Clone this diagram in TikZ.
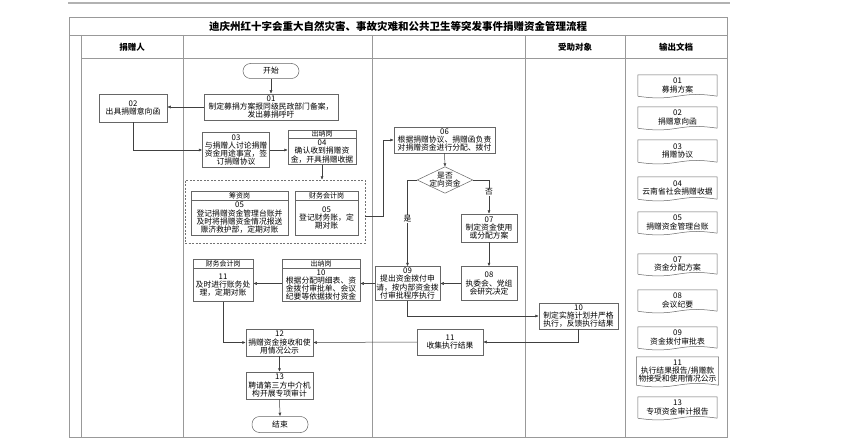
\documentclass[tikz,border=0pt]{standalone}
\usepackage{fontspec}
\setmainfont{Noto Sans CJK SC}
\usetikzlibrary{arrows.meta,calc}
\newcommand\fsm{\fontsize{7.8}{8.3}\selectfont}
\newcommand\fsh{\fontsize{7}{7.5}\selectfont}
\newcommand\mydoc[5]{%
  \node[doc, minimum width=#4, minimum height=#3] (#1) at (677.5, #2+#3/2) {#5};
  \draw[docline] (#1.south west) -- (#1.north west) -- (#1.north east) -- (#1.south east)
    .. controls ([xshift=-#4*0.5pt,yshift=6pt]#1.south east) and ([xshift=#4*0.5pt,yshift=-6pt]#1.south west) .. (#1.south west);}
\begin{document}
\begin{tikzpicture}[x=1pt,y=-1pt,
  lane/.style={draw=black!40, line width=0.7pt},
  box/.style={draw=black!60, line width=0.5pt, fill=white, align=center, inner sep=0.5pt, font=\fsm},
  term/.style={box, rounded corners=7.5pt},
  hdr/.style={draw=black!60, line width=0.5pt, fill=white, inner sep=0pt, font=\fsh},
  grp/.style={draw=black!55, line width=0.5pt, dash pattern=on 2pt off 1.5pt, inner sep=0pt},
  doc/.style={align=center, inner sep=0pt, font=\fsm},
  docline/.style={draw=black!60, line width=0.5pt},
  arr/.style={-{Latex[length=3.5pt,width=3pt]}, draw=black!75, line width=0.5pt},
  lbl/.style={fill=white, inner sep=0.5pt, font=\fsm},
  lanehead/.style={font=\fontsize{8.5}{9}\selectfont\bfseries},
]
\fill[white] (0,0) rectangle (860,444);
\useasboundingbox (0,0) rectangle (860,444);
% top rule
\draw[draw=black!30, line width=1.2pt] (68,3) -- (730,3);
% frame
\draw[lane] (69,17) rectangle (727,437);
\draw[lane] (69,35) -- (727,35);
\draw[lane] (81,58) -- (727,58);
\foreach \x in {81,183,372,525,625} \draw[lane] (\x,35) -- (\x,437);
\node[font=\fontsize{10.5}{11}\selectfont\bfseries] (title) at (398,26) {迪庆州红十字会重大自然灾害、事故灾难和公共卫生等突发事件捐赠资金管理流程};
\node[lanehead] (lh1) at (132,47) {捐赠人};
\node[lanehead] (lh4) at (575,47) {受助对象};
\node[lanehead] (lh5) at (676,47) {输出文档};

% nodes
\node[term, minimum width=56, minimum height=15] (start) at (271,71) {开始};
\node[box, minimum width=134, minimum height=26] (n01) at (271,107) {01\\制定募捐方案报同级民政部门备案，\\发出募捐呼吁};
\node[box, minimum width=68, minimum height=28] (n02) at (133,108) {02\\出具捐赠意向函};
\node[box, minimum width=67, minimum height=35] (n03) at (236,150) {03\\与捐赠人讨论捐赠\\资金用途事宜，签\\订捐赠协议};
\node[hdr, minimum width=68, minimum height=8] (h04) at (322,134) {出纳岗};
\node[box, minimum width=68, minimum height=26, anchor=north] (n04) at (h04.south) {04\\确认收到捐赠资\\金，开具捐赠收据};

\node[grp, minimum width=180, minimum height=63] (g05) at (275,211.5) {};
\node[hdr, minimum width=97, minimum height=9] (h05a) at (239.5,195.5) {筹资岗};
\node[box, minimum width=97, minimum height=35, anchor=north] (n05a) at (h05a.south) {05\\登记捐赠资金管理台账并\\及时将捐赠资金情况报送\\赈济救护部，定期对账};
\node[hdr, minimum width=63, minimum height=9] (h05b) at (326.5,195.5) {财务会计岗};
\node[box, minimum width=63, minimum height=35, anchor=north] (n05b) at (h05b.south) {05\\登记财务账，定\\期对账};

\node[box, minimum width=101, minimum height=26] (n06) at (444.5,140) {06\\根据捐赠协议、捐赠函负责\\对捐赠资金进行分配、拨付};
\node[align=center, inner sep=0pt, minimum width=55, minimum height=26, font=\fsm] (dec) at (445,180) {是否\\定向资金};
\draw[docline] (dec.north) -- (dec.east) -- (dec.south) -- (dec.west) -- cycle;

\node[box, minimum width=56, minimum height=28] (n07) at (489,228) {07\\制定资金使用\\或分配方案};
\node[box, minimum width=56, minimum height=34] (n08) at (489,283.5) {08\\执委会、党组\\会研究决定};
\node[box, minimum width=65, minimum height=34] (n09) at (407.5,283.5) {09\\提出资金拨付申\\请，按内部资金拨\\付审批程序执行};

\node[hdr, minimum width=78, minimum height=9] (h10) at (321,263.5) {出纳岗};
\node[box, minimum width=78, minimum height=33, anchor=north] (n10) at (h10.south) {10\\根据分配明细表、资\\金拨付审批单、会议\\纪要等依据拨付资金};
\node[hdr, minimum width=60, minimum height=9] (h11) at (223,263.5) {财务会计岗};
\node[box, minimum width=60, minimum height=33, anchor=north] (n11) at (h11.south) {11\\及时进行账务处\\理，定期对账};

\node[box, minimum width=67, minimum height=27] (n12) at (279.5,342.5) {12\\捐赠资金接收和使\\用情况公示};
\node[box, minimum width=67, minimum height=27] (n13) at (279.5,385.5) {13\\聘请第三方中介机\\构开展专项审计};
\node[term, minimum width=56, minimum height=16] (end) at (280,424.5) {结束};

\node[box, minimum width=79, minimum height=26] (r10) at (578.5,316) {10\\制定实施计划并严格\\执行，反馈执行结果};
\node[box, minimum width=66, minimum height=26] (c11) at (450,342) {11\\收集执行结果};

% connectors
\draw[arr] (start) -- (n01);
\draw[arr] (n01.west) -- (n01.west -| n02.east);
\draw[arr] (n02.south) |- (n03.west);
\draw[arr] (n03.east) -- (n03.east -| n04.west);
\draw[arr] (n04.south) -- (n04.south |- g05.north);
\coordinate (g05out) at ([yshift=-5pt]g05.east);
\draw[arr] (g05out) -- ++(18,0) |- (n06.west);
\draw[arr] (n06.south) -- (dec.north);
\draw[arr] (dec.west) -| (n09.north);
\draw[arr] (dec.east) -| (n07.north);
\node[lbl] (yes) at (407.5,219) {是};
\node[lbl] (no) at (489,192) {否};
\draw[arr] (n07.south) -- (n08.north);
\draw[arr] (n08.west) -- (n09.east);
\draw[arr] (n09.west) -- (n09.west -| n10.east);
\draw[arr] (n10.west |- n09.west) -- (n09.west -| n11.east);
\draw[arr] (n11.south) |- (n12.west);
\draw[arr] (n09.south) |- (r10.west);
\draw[arr] (r10.south) |- (c11.east);
\draw[arr] (c11.west) -- (n12.east);
\draw[arr] (n12.south) -- (n13.north);
\draw[arr] (n13.south) -- (end.north);

% output documents
\mydoc{d01}{75}{21}{79}{01\\募捐方案}
\mydoc{d02}{107}{21}{79}{02\\捐赠意向函}
\mydoc{d03}{140}{22}{79}{03\\捐赠协议}
\mydoc{d04}{177}{22}{79}{04\\云南省社会捐赠收据}
\mydoc{d05}{212}{21}{79}{05\\捐赠资金管理台账}
\mydoc{d07}{254}{20}{79}{07\\资金分配方案}
\mydoc{d08}{290}{21}{79}{08\\会议纪要}
\mydoc{d09}{327}{21}{79}{09\\资金拨付审批表}
\mydoc{d11}{357}{28}{82}{11\\执行结果报告/捐赠款\\物接受和使用情况公示}
\mydoc{d13}{397}{21}{79}{13\\专项资金审计报告}
\end{tikzpicture}
\end{document}
